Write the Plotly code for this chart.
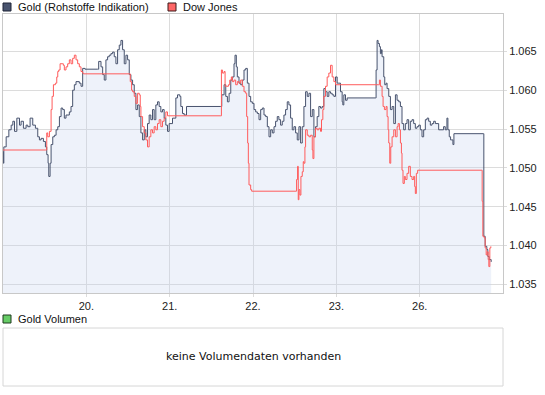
import plotly.graph_objects as go

# ---------------- data ----------------
# time in trading-day units (0 = start of the 19th, weekend skipped)
gold_t = [0.000, 0.004, 0.010, 0.038, 0.070, 0.098, 0.118, 0.138, 0.166, 0.198,
          0.217, 0.245, 0.277, 0.297, 0.325, 0.357, 0.389, 0.417, 0.437, 0.457,
          0.485, 0.509, 0.525, 0.541, 0.549, 0.565, 0.577, 0.597, 0.617, 0.637,
          0.657, 0.677, 0.697, 0.716, 0.736, 0.756, 0.796, 0.816, 0.836, 0.856,
          0.876, 0.916, 0.936, 0.956, 0.984, 1.136, 1.148, 1.176, 1.196, 1.215,
          1.235, 1.255, 1.275, 1.295, 1.315, 1.335, 1.355, 1.375, 1.395, 1.415,
          1.435, 1.455, 1.475, 1.495, 1.515, 1.535, 1.555, 1.575, 1.595, 1.615,
          1.635, 1.655, 1.675, 1.695, 1.714, 1.734, 1.754, 1.774, 1.794, 1.814,
          1.834, 1.854, 1.874, 1.894, 1.914, 1.934, 1.954, 1.974, 1.994,
          2.034, 2.074, 2.094, 2.122, 2.134, 2.154, 2.174, 2.202, 2.613, 2.625,
          2.653, 2.673, 2.693, 2.713, 2.733, 2.752, 2.772, 2.784, 2.800, 2.812,
          2.832, 2.852, 2.872, 2.892, 2.912, 2.932, 2.952, 2.972, 2.992, 3.012,
          3.032, 3.052, 3.072, 3.092, 3.112, 3.132, 3.152, 3.172, 3.192, 3.212,
          3.232, 3.252, 3.271, 3.291, 3.311, 3.331, 3.351, 3.371, 3.391, 3.411,
          3.431, 3.451, 3.471, 3.491, 3.511, 3.531, 3.551, 3.571, 3.591, 3.611,
          3.631, 3.651, 3.671, 3.691, 3.711, 3.731, 3.750, 3.770, 3.790, 3.810,
          3.830, 3.850, 3.870, 3.890, 3.910, 3.930, 3.950, 3.970, 3.990, 4.010,
          4.030,
          4.050, 4.070, 4.078, 4.090, 4.110, 4.130, 4.469, 4.477, 4.489, 4.501,
          4.517, 4.529, 4.541, 4.549, 4.569, 4.581, 4.597, 4.609, 4.629, 4.649,
          4.669, 4.689, 4.709, 4.729, 4.749, 4.769, 4.788, 4.808, 4.828, 4.848,
          4.868, 4.888, 4.908, 4.928, 4.948, 4.968, 4.988, 5.008, 5.028, 5.048,
          5.068, 5.088, 5.108, 5.128, 5.148, 5.168, 5.188, 5.208, 5.228, 5.268,
          5.287, 5.307, 5.327, 5.339, 5.355, 5.371, 5.387, 5.399, 5.411, 5.766,
          5.770, 5.786, 5.806, 5.818, 5.834, 5.858]
gold_v = [1.0521, 1.0506, 1.0527, 1.0540, 1.0549, 1.0555, 1.0560, 1.0547, 1.0564, 1.0555,
          1.0560, 1.0551, 1.0555, 1.0553, 1.0564, 1.0555, 1.0551, 1.0540, 1.0536, 1.0538,
          1.0534, 1.0527, 1.0517, 1.0506, 1.0489, 1.0506, 1.0530, 1.0540, 1.0542, 1.0549,
          1.0553, 1.0566, 1.0577, 1.0575, 1.0564, 1.0568, 1.0572, 1.0579, 1.0600, 1.0607,
          1.0611, 1.0609, 1.0605, 1.0628, 1.0627, 1.0627, 1.0637, 1.0630, 1.0620, 1.0613,
          1.0639, 1.0643, 1.0645, 1.0647, 1.0649, 1.0643, 1.0634, 1.0652, 1.0658, 1.0664,
          1.0652, 1.0634, 1.0645, 1.0639, 1.0620, 1.0613, 1.0607, 1.0596, 1.0575, 1.0581,
          1.0566, 1.0545, 1.0536, 1.0549, 1.0540, 1.0557, 1.0568, 1.0562, 1.0575, 1.0562,
          1.0581, 1.0585, 1.0579, 1.0572, 1.0575, 1.0564, 1.0555, 1.0547, 1.0557,
          1.0564, 1.0590, 1.0594, 1.0592, 1.0579, 1.0570, 1.0568, 1.0579, 1.0579, 1.0594,
          1.0607, 1.0592, 1.0585, 1.0596, 1.0613, 1.0617, 1.0634, 1.0645, 1.0630, 1.0617,
          1.0609, 1.0607, 1.0613, 1.0626, 1.0628, 1.0609, 1.0592, 1.0585, 1.0583, 1.0575,
          1.0572, 1.0570, 1.0562, 1.0575, 1.0577, 1.0568, 1.0566, 1.0553, 1.0540, 1.0549,
          1.0545, 1.0553, 1.0560, 1.0566, 1.0562, 1.0555, 1.0560, 1.0568, 1.0575, 1.0585,
          1.0581, 1.0564, 1.0549, 1.0553, 1.0545, 1.0536, 1.0553, 1.0532, 1.0553, 1.0579,
          1.0598, 1.0592, 1.0596, 1.0566, 1.0575, 1.0540, 1.0553, 1.0566, 1.0579, 1.0577,
          1.0579, 1.0602, 1.0598, 1.0592, 1.0598, 1.0596, 1.0594, 1.0592, 1.0617, 1.0609,
          1.0609,
          1.0598, 1.0585, 1.0581, 1.0594, 1.0587, 1.0590, 1.0590, 1.0626, 1.0664, 1.0660,
          1.0656, 1.0647, 1.0652, 1.0643, 1.0617, 1.0607, 1.0609, 1.0602, 1.0592, 1.0575,
          1.0579, 1.0557, 1.0594, 1.0587, 1.0585, 1.0579, 1.0557, 1.0549, 1.0557, 1.0562,
          1.0549, 1.0560, 1.0562, 1.0557, 1.0551, 1.0553, 1.0555, 1.0549, 1.0540, 1.0549,
          1.0562, 1.0564, 1.0560, 1.0555, 1.0557, 1.0560, 1.0557, 1.0557, 1.0549, 1.0549,
          1.0553, 1.0549, 1.0564, 1.0549, 1.0540, 1.0536, 1.0536, 1.0530, 1.0544, 1.0544,
          1.0412, 1.0399, 1.0395, 1.0386, 1.0382, 1.0379]

dow_t = [0.000, 0.509, 0.525, 0.537, 0.557, 0.577, 0.589, 0.605, 0.629, 0.645,
         0.657, 0.669, 0.685, 0.709, 0.724, 0.736, 0.756, 0.776, 0.796, 0.816,
         0.836, 0.856, 0.876, 0.896, 0.916, 0.936, 0.956, 0.964, 1.515, 1.527,
         1.543, 1.555, 1.575, 1.595, 1.615, 1.635, 1.647, 1.655, 1.675, 1.695,
         1.714, 1.734, 1.754, 1.774, 1.794, 1.814, 1.834, 1.854, 1.874, 1.894,
         1.914, 1.934, 1.954, 1.974,
         2.613, 2.621, 2.633, 2.653, 2.665, 2.681, 2.705, 2.721, 2.740, 2.752,
         2.772, 2.792, 2.812, 2.832, 2.852, 2.872, 2.892, 2.912, 2.924, 2.936,
         2.944, 2.952, 2.972, 2.984, 3.519, 3.523, 3.535, 3.543, 3.551, 3.563,
         3.575, 3.591, 3.603, 3.611, 3.623, 3.631, 3.651, 3.671, 3.691, 3.711,
         3.719, 3.731, 3.750, 3.770, 3.790, 3.810, 3.822, 3.838, 3.850, 3.870,
         3.890, 3.910, 3.930, 3.950, 3.970, 3.990,
         4.509, 4.517, 4.529, 4.549, 4.561, 4.577, 4.597, 4.609, 4.621, 4.629,
         4.641, 4.653, 4.669, 4.689, 4.709, 4.729, 4.741, 4.757, 4.769, 4.781,
         4.788, 4.800, 4.816, 4.828, 4.848, 4.868, 4.888, 4.908, 4.928, 4.940,
         4.948, 4.960, 4.976, 5.746, 5.750, 5.758, 5.774, 5.786, 5.798, 5.810,
         5.822, 5.830, 5.842, 5.854]
dow_v = [1.0523, 1.0523, 1.0545, 1.0540, 1.0547, 1.0575, 1.0592, 1.0607, 1.0609, 1.0617,
         1.0624, 1.0626, 1.0634, 1.0634, 1.0632, 1.0626, 1.0630, 1.0634, 1.0639, 1.0634,
         1.0641, 1.0645, 1.0639, 1.0634, 1.0630, 1.0624, 1.0622, 1.0621, 1.0621, 1.0611,
         1.0600, 1.0598, 1.0592, 1.0583, 1.0596, 1.0594, 1.0579, 1.0566, 1.0553, 1.0545,
         1.0536, 1.0527, 1.0540, 1.0549, 1.0545, 1.0553, 1.0549, 1.0557, 1.0562, 1.0553,
         1.0560, 1.0564, 1.0572, 1.0567,
         1.0567, 1.0626, 1.0622, 1.0624, 1.0605, 1.0605, 1.0607, 1.0613, 1.0617, 1.0611,
         1.0613, 1.0607, 1.0611, 1.0609, 1.0613, 1.0605, 1.0598, 1.0596, 1.0566, 1.0532,
         1.0506, 1.0478, 1.0472, 1.0470, 1.0470, 1.0485, 1.0502, 1.0459, 1.0472, 1.0465,
         1.0489, 1.0495, 1.0508, 1.0506, 1.0527, 1.0549, 1.0542, 1.0540, 1.0542, 1.0523,
         1.0512, 1.0540, 1.0551, 1.0549, 1.0551, 1.0547, 1.0562, 1.0575, 1.0592, 1.0605,
         1.0617, 1.0622, 1.0632, 1.0617, 1.0611, 1.0607,
         1.0607, 1.0613, 1.0605, 1.0592, 1.0579, 1.0575, 1.0579, 1.0566, 1.0549, 1.0532,
         1.0506, 1.0527, 1.0540, 1.0549, 1.0540, 1.0553, 1.0557, 1.0549, 1.0532, 1.0519,
         1.0497, 1.0480, 1.0489, 1.0485, 1.0493, 1.0502, 1.0489, 1.0485, 1.0489, 1.0476,
         1.0467, 1.0493, 1.0497, 1.0497, 1.0457, 1.0412, 1.0410, 1.0397, 1.0388, 1.0392,
         1.0382, 1.0373, 1.0397, 1.0399]

day_ticks = [1, 2, 3, 4, 5]
day_labels = ["20.", "21.", "22.", "23.", "26."]
price_ticks = [1.035, 1.040, 1.045, 1.050, 1.055, 1.060, 1.065]
series_names = ["Gold (Rohstoffe Indikation)", "Dow Jones"]
volume_title = "Gold Volumen"
volume_note = "keine Volumendaten vorhanden"

# ---------------- styling ----------------
W, H = 545, 395
FONT = "Liberation Sans"
NOTE_FONT = "DejaVu Sans"
GOLD = "#48536E"
RED = "#FF5B5B"
GRID = "#DCDCDC"
BORDER = "#C8C8C8"


def px(x):
    return x / W


def py(y):
    return 1 - y / H


fig = go.Figure()
fig.add_trace(go.Scatter(
    x=gold_t, y=gold_v, mode="lines", name=series_names[0],
    line=dict(color=GOLD, width=1, shape="hv"),
    fill="tozeroy", fillcolor="rgba(200,212,240,0.30)",
    hoverinfo="skip"))
fig.add_trace(go.Scatter(
    x=dow_t, y=dow_v, mode="lines", name=series_names[1],
    line=dict(color=RED, width=1, shape="hv"),
    hoverinfo="skip"))

plot_left, plot_right, plot_top, plot_bottom = 3, 503, 14, 293

fig.update_layout(
    width=W, height=H, autosize=False,
    margin=dict(l=0, r=0, t=0, b=0),
    paper_bgcolor="white", plot_bgcolor="white",
    showlegend=False,
    font=dict(family=FONT, size=11, color="#222222"),
    xaxis=dict(
        domain=[px(plot_left), px(plot_right)],
        range=[0, 6], tickvals=day_ticks, ticktext=day_labels,
        showgrid=True, gridcolor=GRID, gridwidth=1,
        zeroline=False, showline=True, linecolor=BORDER, mirror=True,
        ticks="outside", ticklen=3, tickcolor=GRID,
        tickfont=dict(family=FONT, size=11, color="#222222"),
        fixedrange=True,
    ),
    yaxis=dict(
        domain=[py(plot_bottom), py(plot_top)],
        range=[1.0339, 1.0698], side="right",
        tickvals=price_ticks, ticktext=[f"{v:.3f}" for v in price_ticks],
        showgrid=True, gridcolor=GRID, gridwidth=1,
        zeroline=False, showline=True, linecolor=BORDER, mirror=True,
        ticks="outside", ticklen=3, tickcolor=GRID,
        tickfont=dict(family=FONT, size=11, color="#222222"),
        fixedrange=True,
    ),
)

legend_items = [
    (3, series_names[0], GOLD, "#1E2436", 7),
    (168, series_names[1], "#FF6666", "#3A1A1A", 7),
    (3, volume_title, "#66CC66", "#1E3A1E", 319),
]
shapes = []
annotations = []
for x0, label, fillc, edge, yc in legend_items:
    shapes.append(dict(type="rect", xref="paper", yref="paper",
                       x0=px(x0), x1=px(x0 + 8), y0=py(yc - 4), y1=py(yc + 4),
                       fillcolor=fillc, line=dict(color=edge, width=1)))
    annotations.append(dict(xref="paper", yref="paper", x=px(x0 + 13), y=py(yc),
                            text=label, showarrow=False, xanchor="left", yanchor="middle",
                            font=dict(family=FONT, size=11, color="#111111")))

# volume panel
shapes.append(dict(type="rect", xref="paper", yref="paper",
                   x0=px(3), x1=px(503), y0=py(386), y1=py(328),
                   fillcolor="white", line=dict(color="#D6D6D6", width=1)))
annotations.append(dict(xref="paper", yref="paper", x=px(253), y=py(356),
                        text=volume_note, showarrow=False, xanchor="center", yanchor="middle",
                        font=dict(family=NOTE_FONT, size=11, color="#111111")))

fig.update_layout(shapes=shapes, annotations=annotations)

fig.write_html(
    "out.html",
    config={"displayModeBar": False, "staticPlot": True},
    post_script="document.body.style.margin='0';document.body.style.overflow='hidden';",
)
